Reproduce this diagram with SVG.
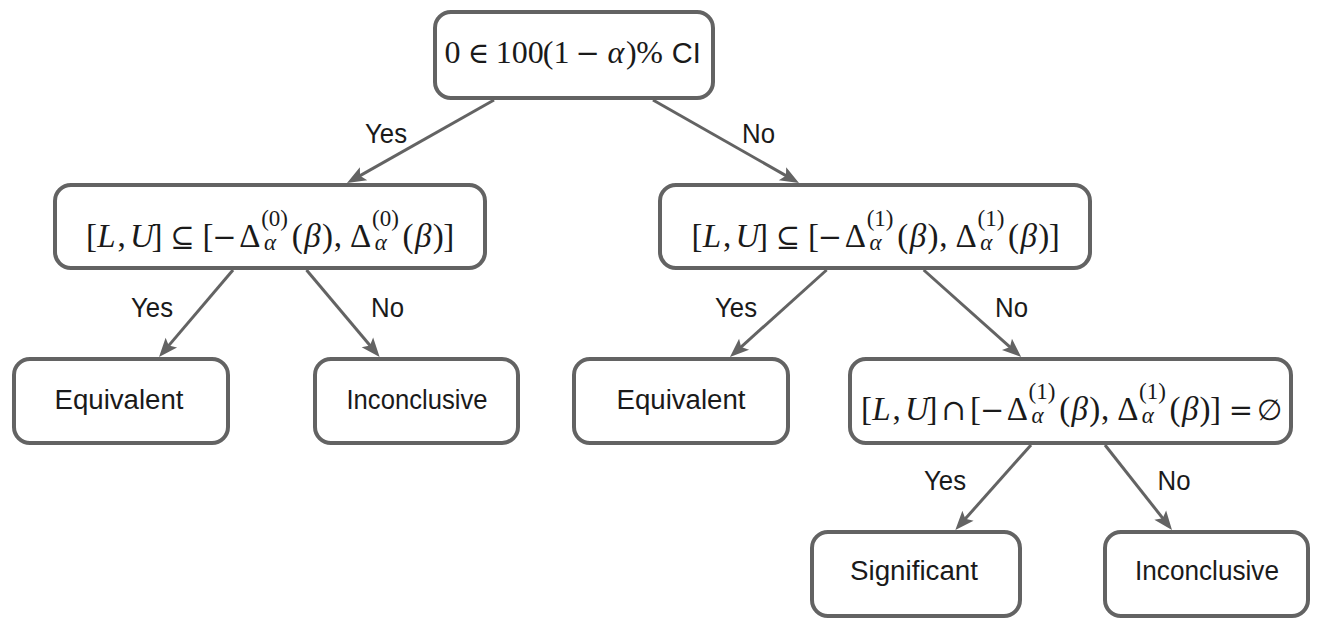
<svg xmlns="http://www.w3.org/2000/svg" width="1340" height="621" viewBox="0 0 1340 621">
<style>
.box{fill:#fff;stroke:#636363;stroke-width:4}
.edge{fill:none;stroke:#636363;stroke-width:3}
.sans{font-family:"Liberation Sans",Arial,sans-serif;font-size:27px;fill:#1a1a1a;text-anchor:middle}
.math{font-family:"Liberation Serif","DejaVu Serif",serif;font-size:33px;fill:#1a1a1a;text-anchor:middle}
.it{font-style:italic}
.sc{font-size:23px}
.sym{font-family:"DejaVu Serif","Liberation Serif",serif;font-size:29px}
</style>
<defs>
<marker id="arr" viewBox="-10 -10 22 20" markerWidth="22" markerHeight="20" refX="0" refY="0" orient="auto" markerUnits="userSpaceOnUse">
<path d="M10,0 L-9,-7.5 L-5,0 L-9,7.5 Z" fill="#636363"/>
</marker>
</defs>
<rect width="1340" height="621" fill="#fff"/>
<g id="connectors">
<line class="edge" x1="494" y1="100" x2="355.7" y2="178.1" marker-end="url(#arr)"/>
<line class="edge" x1="653" y1="100" x2="790.3" y2="178.1" marker-end="url(#arr)"/>
<line class="edge" x1="233" y1="270" x2="165.5" y2="349.4" marker-end="url(#arr)"/>
<line class="edge" x1="306.5" y1="270" x2="373.2" y2="349.3" marker-end="url(#arr)"/>
<line class="edge" x1="826.6" y1="270" x2="737.4" y2="350.3" marker-end="url(#arr)"/>
<line class="edge" x1="923.7" y1="270" x2="1013.7" y2="350.3" marker-end="url(#arr)"/>
<line class="edge" x1="1031" y1="445" x2="962" y2="522.5" marker-end="url(#arr)"/>
<line class="edge" x1="1105" y1="445" x2="1165.8" y2="522.1" marker-end="url(#arr)"/>
<text class="sans" x="386" y="143" textLength="42" lengthAdjust="spacingAndGlyphs">Yes</text>
<text class="sans" x="758.5" y="143" textLength="33" lengthAdjust="spacingAndGlyphs">No</text>
<text class="sans" x="152" y="317" textLength="42" lengthAdjust="spacingAndGlyphs">Yes</text>
<text class="sans" x="387.5" y="317" textLength="33" lengthAdjust="spacingAndGlyphs">No</text>
<text class="sans" x="736" y="317" textLength="42" lengthAdjust="spacingAndGlyphs">Yes</text>
<text class="sans" x="1011.5" y="317" textLength="33" lengthAdjust="spacingAndGlyphs">No</text>
<text class="sans" x="945" y="490" textLength="42" lengthAdjust="spacingAndGlyphs">Yes</text>
<text class="sans" x="1174" y="490" textLength="33" lengthAdjust="spacingAndGlyphs">No</text>
</g>
<g id="root">
<rect class="box" x="435" y="12" width="278" height="86" rx="16"/>
<text class="math" y="63" style="font-size:32px"><tspan x="452.6">0</tspan><tspan x="478.6" class="sym">∈</tspan><tspan x="519.7">100</tspan><tspan x="548.2">(</tspan><tspan x="561.6">1</tspan><tspan x="587.6" class="sym">−</tspan><tspan x="615.8" class="it">α</tspan><tspan x="631.3">)</tspan><tspan x="649.7">%</tspan></text>
<text class="sans" x="686.2" y="63" style="font-size:29px">CI</text>
</g>
<g id="test0">
<rect class="box" x="55" y="185" width="430" height="83" rx="16"/>
<text class="math" y="247"><tspan x="91.4">[</tspan><tspan x="106.5" class="it">L</tspan><tspan x="121.6">,</tspan><tspan x="142" class="it">U</tspan><tspan x="157.1">]</tspan><tspan x="182.5" class="sym">⊆</tspan><tspan x="207.9">[</tspan><tspan x="224.5" class="sym">−</tspan><tspan x="249.9">Δ</tspan><tspan x="274.6" y="226" class="sc">(0)</tspan><tspan x="270.1" y="250" class="sc it">α</tspan><tspan x="297.3" y="247">(</tspan><tspan x="312.4" class="it">β</tspan><tspan x="327.4">)</tspan><tspan x="337.9">,</tspan><tspan x="360.7">Δ</tspan><tspan x="385.4" y="226" class="sc">(0)</tspan><tspan x="380.9" y="250" class="sc it">α</tspan><tspan x="408.1" y="247">(</tspan><tspan x="423.2" class="it">β</tspan><tspan x="438.2">)</tspan><tspan x="448.7">]</tspan></text>
</g>
<g id="test1">
<rect class="box" x="660" y="185" width="430" height="83" rx="16"/>
<text class="math" y="247"><tspan x="697">[</tspan><tspan x="712" class="it">L</tspan><tspan x="727.1">,</tspan><tspan x="747.5" class="it">U</tspan><tspan x="762.6">]</tspan><tspan x="788" class="sym">⊆</tspan><tspan x="813.4">[</tspan><tspan x="830" class="sym">−</tspan><tspan x="855.4">Δ</tspan><tspan x="880.1" y="226" class="sc">(1)</tspan><tspan x="875.6" y="250" class="sc it">α</tspan><tspan x="902.8" y="247">(</tspan><tspan x="917.9" class="it">β</tspan><tspan x="932.9">)</tspan><tspan x="943.4">,</tspan><tspan x="966.2">Δ</tspan><tspan x="990.9" y="226" class="sc">(1)</tspan><tspan x="986.4" y="250" class="sc it">α</tspan><tspan x="1013.6" y="247">(</tspan><tspan x="1028.7" class="it">β</tspan><tspan x="1043.7">)</tspan><tspan x="1054.2">]</tspan></text>
</g>
<g id="equiv-left">
<rect class="box" x="14" y="359" width="214" height="84" rx="16"/>
<text class="sans" x="119" y="409" textLength="129" lengthAdjust="spacingAndGlyphs">Equivalent</text>
</g>
<g id="inconclusive-left">
<rect class="box" x="315" y="359" width="203" height="84" rx="16"/>
<text class="sans" x="417" y="409" textLength="141" lengthAdjust="spacingAndGlyphs">Inconclusive</text>
</g>
<g id="equiv-mid">
<rect class="box" x="574" y="359" width="214" height="84" rx="16"/>
<text class="sans" x="681" y="409" textLength="129" lengthAdjust="spacingAndGlyphs">Equivalent</text>
</g>
<g id="test2">
<rect class="box" x="850" y="359" width="441" height="84" rx="16"/>
<text class="math" y="420"><tspan x="866.4">[</tspan><tspan x="881.4" class="it">L</tspan><tspan x="896.5">,</tspan><tspan x="916.8" class="it">U</tspan><tspan x="931.9">]</tspan><tspan x="953.7" class="sym">∩</tspan><tspan x="975.5">[</tspan><tspan x="992.1" class="sym">−</tspan><tspan x="1017.4">Δ</tspan><tspan x="1042" y="399" class="sc">(1)</tspan><tspan x="1037.5" y="423" class="sc it">α</tspan><tspan x="1064.7" y="420">(</tspan><tspan x="1079.7" class="it">β</tspan><tspan x="1094.7">)</tspan><tspan x="1105.1">,</tspan><tspan x="1127.8">Δ</tspan><tspan x="1152.4" y="399" class="sc">(1)</tspan><tspan x="1147.9" y="423" class="sc it">α</tspan><tspan x="1175.1" y="420">(</tspan><tspan x="1190.1" class="it">β</tspan><tspan x="1205.1">)</tspan><tspan x="1215.6">]</tspan><tspan x="1240.9" class="sym">=</tspan><tspan x="1269.7" class="sym">∅</tspan></text>
</g>
<g id="significant">
<rect class="box" x="812" y="532" width="208" height="84" rx="16"/>
<text class="sans" x="914" y="580" textLength="128" lengthAdjust="spacingAndGlyphs">Significant</text>
</g>
<g id="inconclusive-right">
<rect class="box" x="1105" y="532" width="203" height="84" rx="16"/>
<text class="sans" x="1207" y="580" textLength="144" lengthAdjust="spacingAndGlyphs">Inconclusive</text>
</g>
</svg>
